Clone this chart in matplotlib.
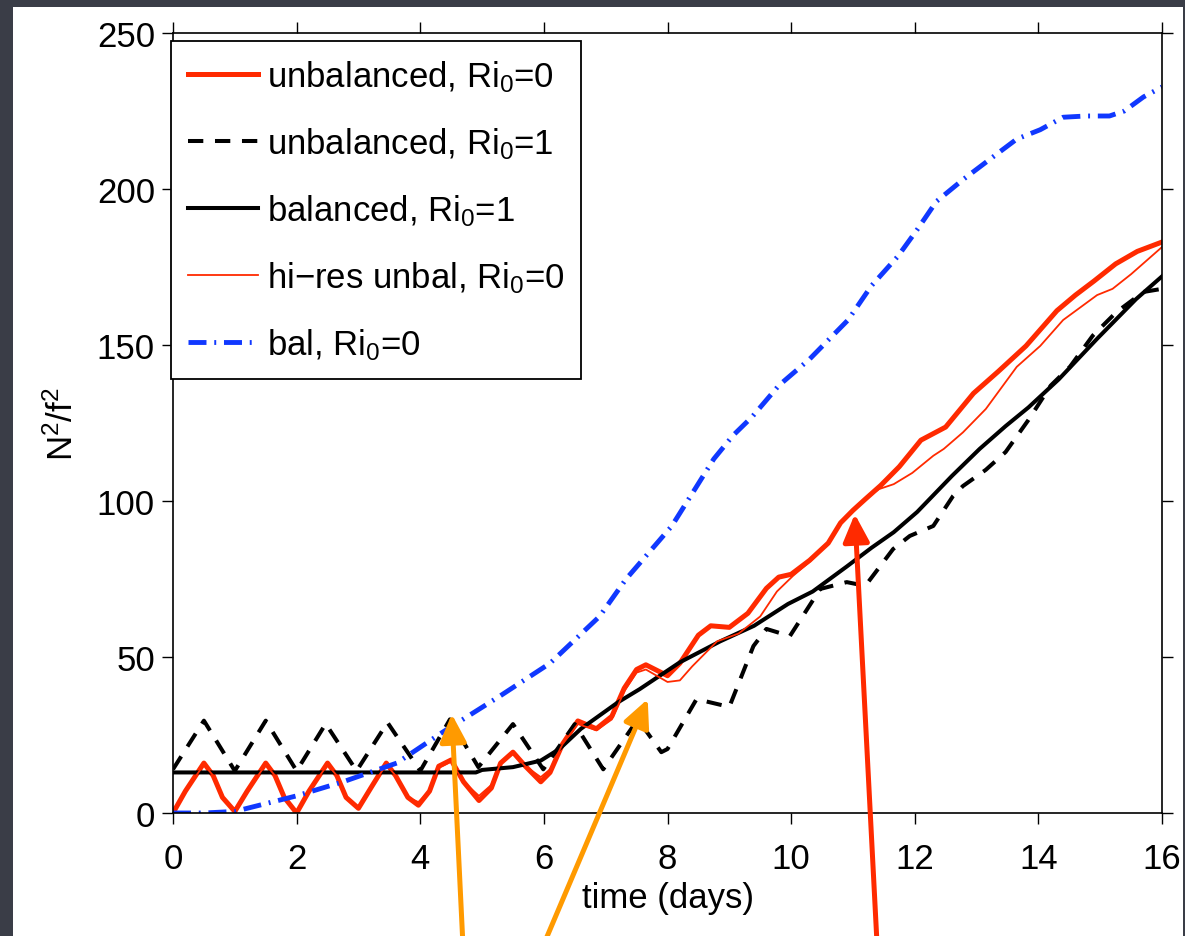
import matplotlib
matplotlib.use("Agg")
import matplotlib.pyplot as plt
from matplotlib.patches import Rectangle

plt.rcParams['font.family'] = ['Liberation Sans', 'DejaVu Sans']
plt.rcParams['mathtext.fontset'] = 'custom'
plt.rcParams['mathtext.rm'] = 'Liberation Sans'
plt.rcParams['mathtext.it'] = 'Liberation Sans'
plt.rcParams['mathtext.default'] = 'regular'

# ---------------- data ----------------
# unbalanced, Ri0=0 (thick red)
t_unbal0 = [0, 0.2, 0.5, 0.65, 0.8, 1.0, 1.2, 1.5, 1.65, 1.8, 2.0, 2.2, 2.5, 2.65, 2.8,
            3.0, 3.2, 3.45, 3.6, 3.8, 3.97, 4.15, 4.3, 4.5, 4.7, 4.95, 5.15, 5.3, 5.5,
            5.7, 5.95, 6.1, 6.3, 6.55, 6.85, 7.1, 7.3, 7.5, 7.65, 8.0, 8.2, 8.5, 8.7,
            9.0, 9.3, 9.6, 9.8, 10.0, 10.3, 10.6, 10.8, 11.0, 11.2, 11.45, 11.75, 12.1,
            12.5, 12.95, 13.35, 13.8, 14.3, 14.6, 14.9, 15.25, 15.6, 16.0]
v_unbal0 = [0, 7, 16, 12, 5, 0.5, 7, 16, 12, 5, 0, 7, 16, 12, 5,
            1.5, 8, 16, 12, 5, 2.5, 7, 15, 17, 10, 4, 8, 16, 19.5,
            15, 10, 13, 22, 29.5, 27, 31, 40, 46, 47.5, 44, 48, 57, 60,
            59.5, 64, 72, 75.6, 76.5, 81, 86.5, 93, 97, 100.6, 105, 111, 119.5,
            123.7, 134.5, 141.5, 149.7, 161, 166, 170.5, 176, 180, 183]

# hi-res unbal, Ri0=0 (thin red)
t_hires0 = [0, 0.2, 0.5, 0.65, 0.8, 1.0, 1.2, 1.5, 1.65, 1.8, 2.0, 2.2, 2.5, 2.65, 2.8,
            3.0, 3.2, 3.45, 3.6, 3.8, 3.97, 4.15, 4.3, 4.5, 4.7, 4.95, 5.15, 5.3, 5.5,
            5.7, 5.95, 6.1, 6.3, 6.55, 6.85, 7.1, 7.3, 7.5, 7.65, 8.0, 8.2, 8.4, 8.8,
            9.15, 9.5, 9.77, 10.03, 10.3, 10.6, 10.8, 11.0, 11.2, 11.42, 11.66, 11.96,
            12.3, 12.47, 12.78, 13.15, 13.65, 14.03, 14.4, 14.95, 15.2, 15.5, 16.0]
v_hires0 = [0, 7, 15.5, 12, 5, 1, 7, 15.5, 12, 5, 0.5, 7, 15.5, 12, 5,
            2, 8, 15.5, 12, 5, 3.5, 7, 14.5, 16.5, 10, 5.5, 9, 16, 19,
            15, 11.5, 14, 22, 28.5, 26.5, 30, 39, 45, 46, 42, 42.5, 47, 55,
            57.5, 63, 71, 76, 80.5, 86.5, 93, 97, 100.6, 103.8, 105.4, 109,
            114.5, 116.7, 122, 129.5, 143, 149.7, 158, 166, 168, 172.7, 181.4]

# balanced, Ri0=1 (solid black)
t_bal1 = [0, 4.9, 5.0, 5.5, 5.95, 6.25, 6.6, 7.2, 7.55, 8.2, 8.85, 9.4, 9.95, 10.35,
          10.9, 11.3, 11.66, 12.04, 12.6, 13.05, 13.47, 13.84, 14.33, 14.95, 15.58, 16.0]
v_bal1 = [13, 13, 13.8, 14.7, 16.8, 20.5, 27, 35.5, 39.7, 48.3, 55, 60, 67, 71,
          79, 85, 90, 96.5, 108, 116.7, 124, 130, 139, 152, 164.7, 172]

# unbalanced, Ri0=1 (dashed black)
t_unbal1 = [0, 0.5, 1.0, 1.5, 2.0, 2.47, 2.97, 3.47, 4.0, 4.48, 4.94, 5.5, 5.99, 6.5,
            6.96, 7.52, 7.9, 8.0, 8.47, 9.0, 9.39, 9.6, 9.98, 10.47, 10.9, 11.2, 11.65,
            11.92, 12.3, 12.62, 12.78, 13.15, 13.47, 13.84, 14.2, 14.51, 14.88, 15.26,
            15.7, 16.0]
v_unbal1 = [14, 29.6, 13.5, 29.6, 13.5, 28.6, 13.5, 29, 13.5, 30, 14.7, 28.5, 14, 28.5,
            14, 30, 19.5, 20.5, 36.5, 34, 53.5, 59, 56.7, 71.8, 74, 72.8, 84.6,
            88.8, 92, 101.6, 104.8, 110, 115.7, 126, 137, 143, 153, 160.5,
            167, 168]

# bal, Ri0=0 (blue dash-dot)
t_bal0 = [0, 0.5, 1.0, 1.5, 2.0, 2.75, 3.62, 4.37, 5.29, 6.1, 6.9, 7.33, 8.07, 8.45,
          8.75, 9.06, 9.37, 9.8, 10.3, 10.92, 11.3, 11.73, 12.04, 12.35, 12.78, 13.22,
          13.65, 14.03, 14.4, 14.77, 15.15, 15.39, 15.7, 16.0]
v_bal0 = [0, 0, 0.5, 3, 5.5, 10, 16, 26, 37.5, 48, 63, 75, 92, 104,
          113.5, 121, 127, 137, 145.5, 158, 169, 178.5, 187, 196, 203, 209.6,
          216, 219, 223, 223.4, 223.4, 225, 229.5, 232.7]

labels = ['unbalanced, Ri$_0$=0', 'unbalanced, Ri$_0$=1', 'balanced, Ri$_0$=1',
          'hi\u2212res unbal, Ri$_0$=0', 'bal, Ri$_0$=0']

x_ticks = [0, 2, 4, 6, 8, 10, 12, 14, 16]
y_ticks = [0, 50, 100, 150, 200, 250]

# arrow (tip, tail) pairs in data coordinates
arrow_tips = [(4.51, 31.7), (7.68, 36.5), (11.03, 95.8)]
arrow_tails = [(4.69, -42), (6.0, -42), (11.39, -42)]
arrow_colors = ['#ff9a00', '#ff9a00', '#ff2a00']

# ---------------- figure ----------------
W, H = 1185, 937
fig = plt.figure(figsize=(W / 100, H / 100), dpi=100)
fig.patch.set_facecolor('#3a3d47')
panel = Rectangle((13 / W, 0), (1183 - 13) / W, (H - 8) / H,
                  transform=fig.transFigure, facecolor='white',
                  edgecolor='none', zorder=-5)
fig.patches.append(panel)

ax = fig.add_axes([173 / W, (H - 814) / H, (1162 - 173) / W, (814 - 34) / H])
ax.set_zorder(1)
ax.set_facecolor('white')

red = '#ff2a00'
blue = '#1038ff'

l1, = ax.plot(t_unbal0, v_unbal0, color=red, lw=3.6, solid_joinstyle='round')
l2, = ax.plot(t_unbal1, v_unbal1, color='black', lw=2.9, dashes=(3.8, 2.9),
              dash_capstyle='butt')
l3, = ax.plot(t_bal1, v_bal1, color='black', lw=2.9)
l4, = ax.plot(t_hires0, v_hires0, color=red, lw=1.3)
l5, = ax.plot(t_bal0, v_bal0, color=blue, lw=3.5, dashes=(3.7, 1.6, 0.4, 1.6),
              dash_capstyle='butt')

ax.set_xlim(0, 16)
ax.set_ylim(0, 250)
ax.set_xticks(x_ticks)
ax.set_yticks(y_ticks)
ax.tick_params(axis='both', which='both', direction='out', length=8, width=1.0,
               labelsize=25, top=True, right=True)
ax.tick_params(axis='x', pad=13)
ax.tick_params(axis='y', pad=5)
for s in ax.spines.values():
    s.set_linewidth(1.2)

ax.set_xlabel('time (days)', fontsize=25, labelpad=4)
ax.set_ylabel('N$^2$/f$^2$', fontsize=25)
ax.yaxis.set_label_coords(-0.094, 0.5)

leg = ax.legend([l1, l2, l3, l4, l5], labels, loc='upper left',
                bbox_to_anchor=(-0.002, 0.99), borderaxespad=0, fontsize=25,
                handlelength=2.0, handletextpad=0.25, labelspacing=0.9,
                borderpad=0.5, fancybox=False, framealpha=1, edgecolor='black')
leg.get_frame().set_linewidth(1.3)

for (tx, ty), (sx, sy), c in zip(arrow_tips, arrow_tails, arrow_colors):
    ax.annotate('', xy=(tx, ty), xytext=(sx, sy), annotation_clip=False,
                arrowprops=dict(arrowstyle='-|>,head_length=0.42,head_width=0.2',
                                mutation_scale=40, lw=3.6, color=c,
                                shrinkA=0, shrinkB=0), zorder=10)

fig.savefig('out.png', dpi=100, facecolor=fig.get_facecolor())
